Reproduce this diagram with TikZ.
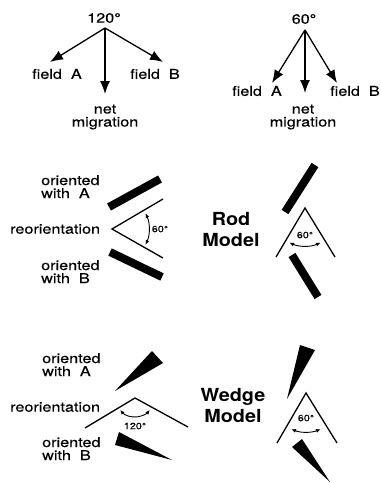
\documentclass[tikz,border=0pt]{standalone}
\usepackage{fontspec}
\setmainfont{TeX Gyre Heros}[FakeStretch=1.2, FakeBold=0.3]
\newfontfamily\heavy{TeX Gyre Heros}[FakeStretch=1.1]
\usepackage{tikz}
\usetikzlibrary{arrows.meta}

\begin{document}
\begin{tikzpicture}[x=1pt, y=-1pt,
	lbl/.style={font=\fontsize{13.5}{13}\selectfont, inner sep=0pt},
	twoline/.style={lbl, align=left, anchor=north west},
	modelname/.style={font=\heavy\bfseries\fontsize{18}{21}\selectfont, inner sep=0pt, align=center, anchor=north},
	small/.style={font=\fontsize{9}{9}\selectfont, inner sep=0pt},
	field/.style={line width=1.3pt, -{Latex[length=13pt,width=10pt]}},
	arm/.style={line width=1.3pt},
	rod/.style={line width=8pt},
	wedge/.style={fill=black},
	turn/.style={line width=0.9pt, {Latex[length=4.5pt,width=4pt]}-{Latex[length=4.5pt,width=4pt]}}]
			
			\useasboundingbox (0,0) rectangle (381,483);
			
			\node[lbl] (ang1) at (104,18) {120°};
			\coordinate (o1) at (105,28);
			\coordinate (a1) at (50,62);
			\coordinate (b1) at (163,62);
			\coordinate (n1) at (105,94);
			\draw[field] (o1) -- (a1);
			\draw[field] (o1) -- (b1);
			\draw[field] (o1) -- (n1);
			\node[lbl] (fa1) at (57,74) {field~~A};
			\node[lbl] (fb1) at (155,74) {field~~B};
			\node[lbl, align=center] (net1) at (105,117) {net\\migration};
			
			\node[lbl] (ang2) at (304,19) {60°};
			\coordinate (o2) at (305,30);
			\coordinate (a2) at (272,83);
			\coordinate (b2) at (337,83);
			\coordinate (n2) at (305,93);
			\draw[field] (o2) -- (a2);
			\draw[field] (o2) -- (b2);
			\draw[field] (o2) -- (n2);
			\node[lbl] (fa2) at (257,91) {field~~A};
			\node[lbl] (fb2) at (355,91) {field~~B};
			\node[lbl, align=center] (net2) at (303,117) {net\\migration};
			
			\node[twoline] (ora) at (41,175) {oriented\\with~~A};
			\node[lbl, anchor=west] (reo) at (10,229) {reorientation};
			\node[twoline] (orb) at (41,260) {oriented\\with~~B};
			\draw[rod] (109,207) -- (160,179);
			\draw[rod] (110,252) -- (162,277);
			\coordinate (v1) at (112,229);
			\draw[arm] (163,199) -- (v1) -- (163,258);
			\draw[turn] ([shift={(-25:37)}]v1) arc[start angle=-25, end angle=25, radius=37];
			\node[small] (deg1) at (160,229) {60°};
			
			\node[modelname] (rod) at (231,212) {Rod\\Model};
			\draw[rod] (285,212) -- (315,165);
			\draw[rod] (292,255) -- (318,297);
			\coordinate (v2) at (305,208);
			\draw[arm] (276,257) -- (v2) -- (335,257);
			\draw[turn] ([shift={(114:38)}]v2) arc[start angle=114, end angle=66, radius=38];
			\node[small] (deg2) at (305,235) {60°};
			
			\node[twoline] (wora) at (42,353) {oriented\\with~~A};
			\node[lbl, anchor=west] (wreo) at (10,407) {reorientation};
			\node[twoline] (worb) at (42,437) {oriented\\with~~B};
			\fill[wedge] (115,391) -- (152,351) -- (163,363) -- cycle;
			\fill[wedge] (119,432) -- (115,445) -- (172,460) -- cycle;
			\coordinate (v3) at (135,398);
			\draw[arm] (85,428) -- (v3) -- (188,427);
			\draw[turn] ([shift={(141:19)}]v3) arc[start angle=141, end angle=39, radius=19];
			\node[small] (deg3) at (135,426) {120°};
			
			\node[modelname] (wedge) at (233,388) {Wedge\\Model};
			\fill[wedge] (287,399) -- (300,345) -- (315,350) -- cycle;
			\fill[wedge] (292,447) -- (302,439) -- (330,482) -- cycle;
			\coordinate (v4) at (306,393);
			\draw[arm] (277,443) -- (v4) -- (337,443);
			\draw[turn] ([shift={(112:39)}]v4) arc[start angle=112, end angle=68, radius=39];
			\node[small] (deg4) at (306,418) {60°};
			
		\end{tikzpicture}
\end{document}
